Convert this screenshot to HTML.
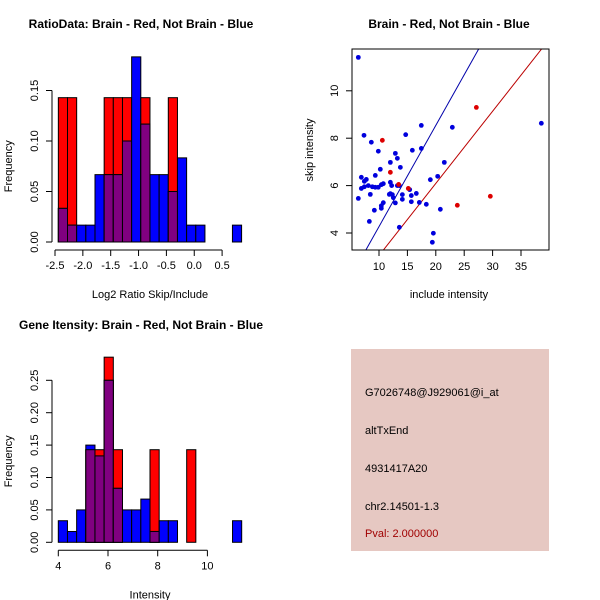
<!DOCTYPE html>
<html><head><meta charset="utf-8"><style>
html,body{margin:0;padding:0;background:#fff}
svg{display:block;font-family:"Liberation Sans",Arial,sans-serif}
</style></head><body>
<svg id="root" width="600" height="600" viewBox="0 0 600 600" xmlns="http://www.w3.org/2000/svg">
<rect width="600" height="600" fill="#fff"/>
<g id="p1"></g>
<g id="p2"></g>
<g id="p3"></g>
<g>
<rect x="351" y="349" width="198" height="202" fill="#E6C8C2"/>
<text x="365" y="396" font-size="11" fill="#000">G7026748@J929061@i_at</text>
<text x="365" y="434" font-size="11" fill="#000">altTxEnd</text>
<text x="365" y="472" font-size="11" fill="#000">4931417A20</text>
<text x="365" y="510" font-size="11" fill="#000">chr2.14501-1.3</text>
<text x="365" y="537" font-size="11" fill="#a00000">Pval: 2.000000</text>
</g>
</svg>
<script>
// ---- Data ----
const ratioRed = [0.1429,0.1429,0,0,0,0.1429,0.1429,0.1429,0,0.1429,0,0,0.1429,0,0,0,0,0,0,0];
const ratioBlue = [0.0333,0.0167,0.0167,0.0167,0.0667,0.0667,0.0667,0.1,0.1833,0.1167,0.0667,0.0667,0.05,0.0833,0.0167,0.0167,0,0,0,0.0167];
const ratioBinStart = -2.44;
const ratioBinWidth = 0.1645;
const ratioXTicks = [-2.5,-2.0,-1.5,-1.0,-0.5,0.0,0.5];
const ratioYTicks = [0.00,0.05,0.10,0.15];

const geneRed = [0,0,0,0.1429,0.1429,0.2857,0.1429,0,0,0,0.1429,0,0,0,0.1429,0,0,0,0,0];
const geneBlue = [0.0333,0.0167,0.05,0.15,0.1333,0.25,0.0833,0.05,0.05,0.0667,0.0167,0.0333,0.0333,0,0,0,0,0,0,0.0333];
const geneBinStart = 4.0;
const geneBinWidth = 0.369;
const geneXTicks = [4,6,8,10];
const geneYTicks = [0.00,0.05,0.10,0.15,0.20,0.25];

const blueX = [6.36,7.36,8.65,9.88,12.88,13.23,12.0,13.76,10.23,9.35,6.89,7.77,7.42,6.89,7.42,8.12,8.83,9.35,9.88,10.41,10.76,12.0,12.23,13.23,13.58,12.0,12.35,12.52,11.82,12.88,14.11,14.11,8.47,6.36,10.76,10.41,10.41,9.18,8.30,13.58,14.70,15.87,17.45,17.45,15.40,15.69,15.69,16.57,17.10,18.33,19.04,20.33,21.50,22.91,20.80,19.57,19.39,38.58];
const blueY = [11.41,8.12,7.83,7.45,7.36,7.15,6.98,6.77,6.69,6.43,6.35,6.26,6.18,5.88,5.95,6.00,5.95,5.93,5.93,6.04,6.08,6.14,6.00,6.00,6.00,5.66,5.62,5.49,5.63,5.27,5.62,5.42,5.63,5.46,5.28,5.15,5.04,4.96,4.49,4.24,8.15,7.49,8.54,7.57,5.83,5.58,5.32,5.67,5.29,5.21,6.25,6.39,6.98,8.46,5.00,3.99,3.61,8.63];
const redX = [10.59,12.0,13.46,15.16,23.79,27.14,29.60];
const redY = [7.91,6.56,6.05,5.88,5.17,9.30,5.55];
const blueSlope = 0.427;
const redSlope = 0.3046;
const scatterXTicks = [10,15,20,25,30,35];
const scatterYTicks = [4,6,8,10];

const NS = "http://www.w3.org/2000/svg";
function mk(parent, tag, attrs, text){
  const e = document.createElementNS(NS, tag);
  for (const k in attrs) e.setAttribute(k, attrs[k]);
  if (text !== undefined) e.textContent = text;
  parent.appendChild(e);
  return e;
}

function histogram(g, red, blue, binStart, binWidth, xTicks, yTicks, px0, pxPerUnit, base, pxPerFreq, title, xlab, xDigits){
  const sx = v => px0 + (v - xTicks[0]) * pxPerUnit;
  const sy = f => base - f * pxPerFreq;
  for (let i = 0; i < red.length; i++){
    const x0 = sx(binStart + i*binWidth), w = binWidth*pxPerUnit;
    const r = red[i], b = blue[i], m = Math.min(r,b);
    if (r > 0){
      const e = mk(g,'rect',{x:x0,y:sy(r),width:w,height:r*pxPerFreq,fill:'#ff0000',stroke:'#000','stroke-width':1});
      
      
    }
    if (b > 0){
      const e = mk(g,'rect',{x:x0,y:sy(b),width:w,height:b*pxPerFreq,fill:'#0000ff',stroke:'#000','stroke-width':1});
      
      
    }
    if (m > 0){
      const e = mk(g,'rect',{x:x0,y:sy(m),width:w,height:m*pxPerFreq,fill:'#800080',stroke:'#000','stroke-width':1});
      
      
    }
  }
  const ya = mk(g,'line',{x1:52,x2:52,y1:sy(yTicks[0]),y2:sy(yTicks[yTicks.length-1]),stroke:'#000'});
  
  
  yTicks.forEach(t=>{
    mk(g,'line',{x1:46,x2:52,y1:sy(t),y2:sy(t),stroke:'#000'});
    const tl = mk(g,'text',{x:38,y:sy(t),'font-size':11,'text-anchor':'middle',transform:`rotate(-90 38 ${sy(t)})`}, t.toFixed(2));
    
    
  });
  const xa = mk(g,'line',{x1:sx(xTicks[0]),x2:sx(xTicks[xTicks.length-1]),y1:base+8,y2:base+8,stroke:'#000'});
  
  
  xTicks.forEach(t=>{
    mk(g,'line',{x1:sx(t),x2:sx(t),y1:base+8,y2:base+14,stroke:'#000'});
    const tl = mk(g,'text',{x:sx(t),y:base+27,'font-size':11,'text-anchor':'middle'}, t.toFixed(xDigits));
    
    
  });
  const tt = mk(g,'text',{x:141,y:base-218,'font-size':12,'font-weight':'bold','text-anchor':'middle'}, title);
  
  
  const xl = mk(g,'text',{x:150,y:base+56,'font-size':11,'text-anchor':'middle'}, xlab);
  
  
  const yc = (sy(yTicks[0]) + sy(yTicks[yTicks.length-1]))/2;
  const yl = mk(g,'text',{x:12,y:yc,'font-size':11,'text-anchor':'middle',transform:`rotate(-90 12 ${yc})`}, 'Frequency');
  
  
  return tt;
}

const t1 = histogram(document.getElementById('p1'), ratioRed, ratioBlue, ratioBinStart, ratioBinWidth, ratioXTicks, ratioYTicks, 55, 55.7, 242, 1010, 'RatioData: Brain - Red, Not Brain - Blue', 'Log2 Ratio Skip/Include', 1);
t1.setAttribute('y', 28);
const t3 = histogram(document.getElementById('p3'), geneRed, geneBlue, geneBinStart, geneBinWidth, geneXTicks, geneYTicks, 58.3, 24.85, 542.3, 648, 'Gene Itensity: Brain - Red, Not Brain - Blue', 'Intensity', 0);
t3.setAttribute('y', 329);

(function(){
  const g = document.getElementById('p2');
  const sx = x => 322.2 + 5.68*x;
  const sy = y => 327.8 - 23.7*y;
  const L=352,R=549,T=49,B=250;
  const clip = mk(g,'clipPath',{id:'sc'});
  mk(clip,'rect',{x:L,y:T,width:R-L,height:B-T});
  const xmin=(L-322.2)/5.68, xmax=(R-322.2)/5.68;
  const bl = mk(g,'line',{x1:sx(xmin),y1:sy(blueSlope*xmin),x2:sx(xmax),y2:sy(blueSlope*xmax),stroke:'#0000aa','clip-path':'url(#sc)'});
  
  
  const rl = mk(g,'line',{x1:sx(xmin),y1:sy(redSlope*xmin),x2:sx(xmax),y2:sy(redSlope*xmax),stroke:'#bb0000','clip-path':'url(#sc)'});
  
  
  blueX.forEach((x,i)=>{
    const c = mk(g,'circle',{cx:sx(x),cy:sy(blueY[i]),r:2.4,fill:'#0000dd'});
    
    
  });
  redX.forEach((x,i)=>{
    const c = mk(g,'circle',{cx:sx(x),cy:sy(redY[i]),r:2.4,fill:'#dd0000'});
    
    
  });
  const box = mk(g,'rect',{x:L,y:T,width:R-L,height:B-T,fill:'none',stroke:'#000'});
  
  
  scatterXTicks.forEach(t=>{
    mk(g,'line',{x1:sx(t),x2:sx(t),y1:B,y2:B+6,stroke:'#000'});
    const tl = mk(g,'text',{x:sx(t),y:B+20,'font-size':11,'text-anchor':'middle'}, String(t));
    
    
  });
  scatterYTicks.forEach(t=>{
    mk(g,'line',{x1:L-6,x2:L,y1:sy(t),y2:sy(t),stroke:'#000'});
    const tl = mk(g,'text',{x:338,y:sy(t),'font-size':11,'text-anchor':'middle',transform:`rotate(-90 338 ${sy(t)})`}, String(t));
    
    
  });
  const tt = mk(g,'text',{x:449,y:28,'font-size':12,'font-weight':'bold','text-anchor':'middle'}, 'Brain - Red, Not Brain - Blue');
  
  
  const xl = mk(g,'text',{x:449,y:298,'font-size':11,'text-anchor':'middle'}, 'include intensity');
  
  
  const yl = mk(g,'text',{x:313,y:150,'font-size':11,'text-anchor':'middle',transform:'rotate(-90 313 150)'}, 'skip intensity');
  
  
})();
</script>
</body></html>
